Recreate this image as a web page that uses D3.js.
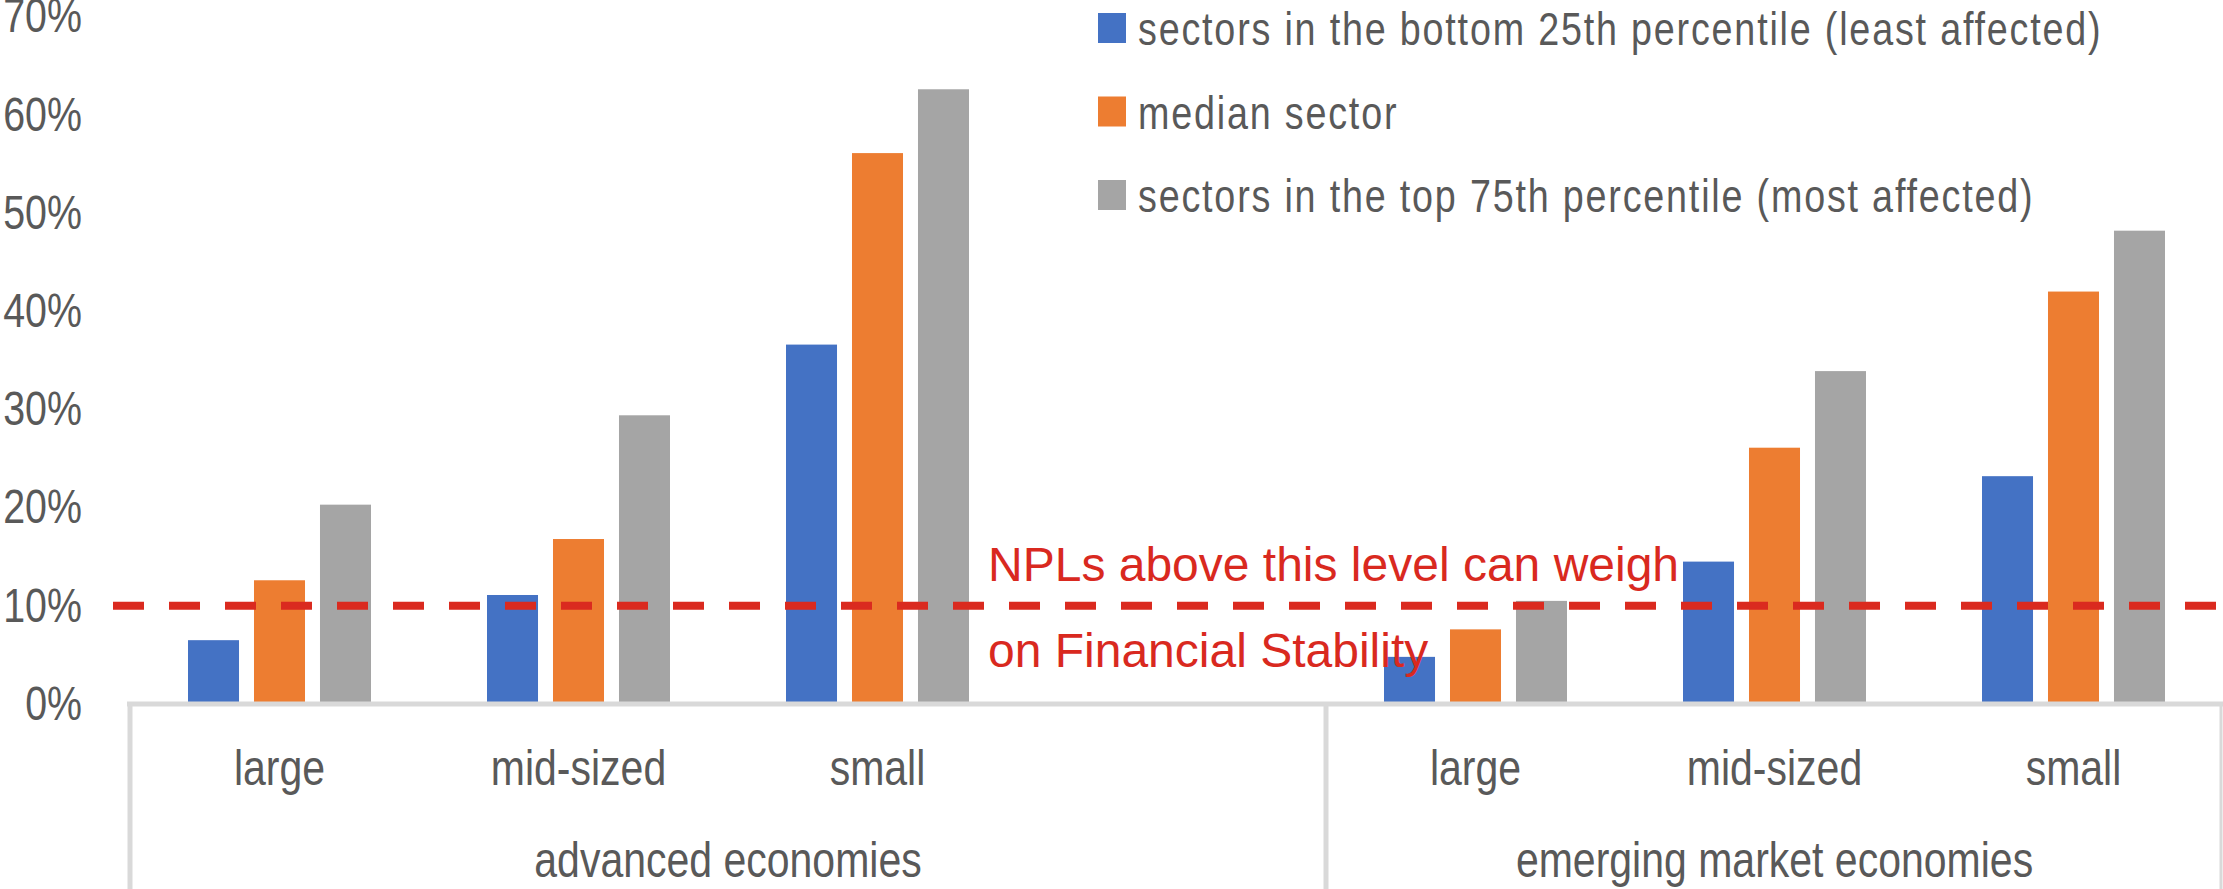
<!DOCTYPE html>
<html>
<head>
<meta charset="utf-8">
<script src="https://cdn.jsdelivr.net/npm/d3@7"></script>
<style>
  html, body { margin: 0; padding: 0; background: #fff; }
  text { font-family: "Liberation Sans", Arial, sans-serif; }
</style>
</head>
<body>
<div id="chart"></div>
<script>
// chart data
var groupNames = ['advanced economies', 'emerging market economies'];
var sizeNames = ['large', 'mid-sized', 'small'];
var seriesNames = [
    'sectors in the bottom 25th percentile (least affected)',
    'median sector',
    'sectors in the top 75th percentile (most affected)'
];
// values in %, advanced economies first then emerging market economies
var bottomValues = [6.5, 11.1, 36.6, 4.8, 14.5, 23.2];
var medianValues = [12.6, 16.8, 56.1, 7.6, 26.1, 42.0];
var topValues = [20.3, 29.4, 62.6, 10.5, 33.9, 48.2];
var yTicks = [0, 10, 20, 30, 40, 50, 60, 70];
var thresholdValue = 10;
var noteLines = ['NPLs above this level can weigh', 'on Financial Stability'];

var colors = ['#4472C4', '#ED7D31', '#A5A5A5'];

// svg area
var svgWidth = 2223;
var svgHeight = 889;

// narrow look of the original font
var squeeze = 'scale(0.82,1)';

var svg = d3.select('#chart')
    .append('svg')
    .attr('width', svgWidth)
    .attr('height', svgHeight);

// category slots: advanced economies has an empty 4th slot
var slots = [
    'advanced economies|large', 'advanced economies|mid-sized', 'advanced economies|small', 'advanced economies|',
    'emerging market economies|large', 'emerging market economies|mid-sized', 'emerging market economies|small'
];

var xScale = d3.scaleBand()
    .domain(slots)
    .range([130, 2223])
    .paddingInner(0)
    .paddingOuter(0);

var xSeries = d3.scaleBand()
    .domain(d3.range(3))
    .range([0, xScale.bandwidth()])
    .paddingInner(0.227)
    .paddingOuter(0.879);

var yScale = d3.scaleLinear()
    .domain([0, 70])
    .range([704, 16.6]);

// flatten data
var rows = [];
var allSeries = [bottomValues, medianValues, topValues];
groupNames.forEach(function (g, gi) {
    sizeNames.forEach(function (s, si) {
        allSeries.forEach(function (vals, k) {
            rows.push({ slot: g + '|' + s, series: k, value: vals[gi * 3 + si] });
        });
    });
});

// bars
svg.append('g')
    .selectAll('rect')
    .data(rows)
    .enter()
    .append('rect')
    .attr('x', d => xScale(d.slot) + xSeries(d.series))
    .attr('y', d => yScale(d.value))
    .attr('width', xSeries.bandwidth())
    .attr('height', d => yScale(0) - yScale(d.value))
    .attr('fill', d => colors[d.series]);

// y axis labels
var leftAxis = d3.axisLeft(yScale)
    .tickValues(yTicks)
    .tickSize(0)
    .tickPadding(0)
    .tickFormat(d => d + '%');

var yAxis = svg.append('g')
    .attr('transform', 'translate(82,0)')
    .call(leftAxis);
yAxis.select('.domain').remove();
yAxis.selectAll('text')
    .attr('font-size', 48)
    .attr('font-family', '"Liberation Sans", Arial, sans-serif')
    .attr('fill', '#595959')
    .attr('transform', squeeze);

// category axis lines
var lineColor = '#D9D9D9';
svg.append('line')
    .attr('x1', 127).attr('x2', 2223)
    .attr('y1', yScale(0)).attr('y2', yScale(0))
    .attr('stroke', lineColor).attr('stroke-width', 5);

var dividers = [xScale(slots[0]), xScale(slots[4]), 2221];
svg.selectAll('.divider')
    .data(dividers)
    .enter()
    .append('line')
    .attr('class', 'divider')
    .attr('x1', d => d).attr('x2', d => d)
    .attr('y1', yScale(0)).attr('y2', svgHeight)
    .attr('stroke', lineColor)
    .attr('stroke-width', (d, i) => i === 2 ? 3 : 5);

// size labels
svg.selectAll('.size-label')
    .data(rows.filter(d => d.series === 0))
    .enter()
    .append('text')
    .attr('class', 'size-label')
    .attr('transform', d => `translate(${xScale(d.slot) + xScale.bandwidth() / 2},785) ${squeeze}`)
    .attr('text-anchor', 'middle')
    .attr('font-size', 50)
    .attr('fill', '#595959')
    .text(d => d.slot.split('|')[1]);

// group labels
var groupSpans = [[slots[0], slots[3]], [slots[4], slots[6]]];
svg.selectAll('.group-label')
    .data(groupNames)
    .enter()
    .append('text')
    .attr('class', 'group-label')
    .attr('transform', (d, i) => {
        var cx = (xScale(groupSpans[i][0]) + xScale(groupSpans[i][1]) + xScale.bandwidth()) / 2;
        return `translate(${cx},877) ${squeeze}`;
    })
    .attr('text-anchor', 'middle')
    .attr('font-size', 50)
    .attr('fill', '#595959')
    .text(d => d);

// threshold line
svg.append('line')
    .attr('x1', 113).attr('x2', 2223)
    .attr('y1', yScale(thresholdValue)).attr('y2', yScale(thresholdValue))
    .attr('stroke', '#DA2A1F')
    .attr('stroke-width', 8)
    .attr('stroke-dasharray', '31,25');

svg.selectAll('.note')
    .data(noteLines)
    .enter()
    .append('text')
    .attr('class', 'note')
    .attr('x', 988)
    .attr('y', (d, i) => i === 0 ? 581 : 667)
    .attr('font-size', 48)
    .attr('fill', '#D9291F')
    .text(d => d);

// legend
var legend = svg.append('g')
    .attr('transform', 'translate(1098,13)');

var legendItem = legend.selectAll('g')
    .data(seriesNames)
    .enter()
    .append('g')
    .attr('transform', (d, i) => `translate(0, ${i * 83.5})`);

legendItem.append('rect')
    .attr('width', 28)
    .attr('height', 30)
    .attr('fill', (d, i) => colors[i]);

legendItem.append('text')
    .attr('transform', `translate(40,32) ${squeeze}`)
    .attr('font-size', 46)
    .attr('letter-spacing', '2.2px')
    .attr('fill', '#595959')
    .text(d => d);
</script>
</body>
</html>
